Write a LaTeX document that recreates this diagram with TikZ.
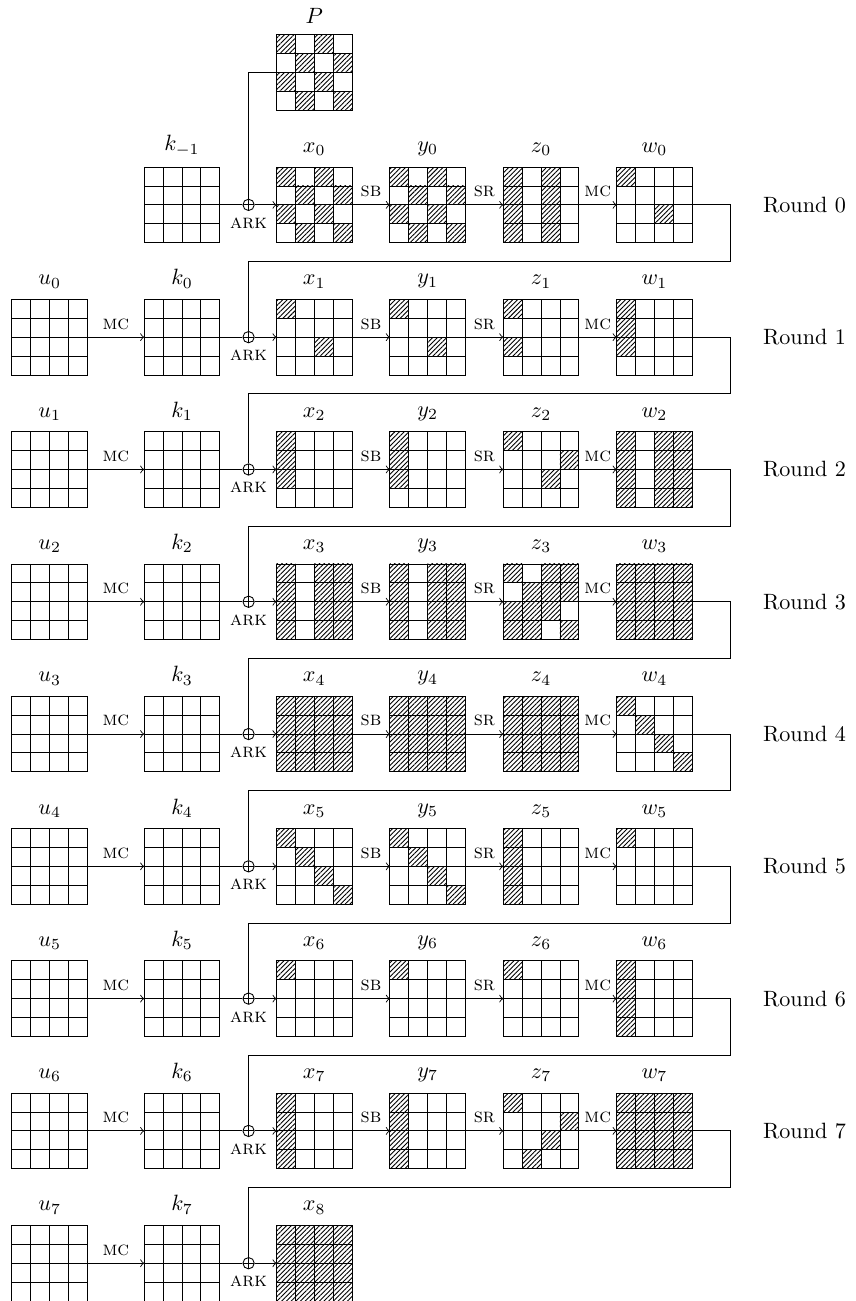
\documentclass[tikz,border=0pt]{standalone}
\usetikzlibrary{positioning,patterns.meta}

\begin{document}
\begin{tikzpicture}[
x=3mm,y=3mm,
label distance=1.5pt,
box/.style={draw,minimum size=12mm,inner sep=0pt,outer sep=0pt,
path picture={\foreach \t in {1,2,3} {
\draw ([xshift=\t*3mm]path picture bounding box.north west) -- ([xshift=\t*3mm]path picture bounding box.south west);
\draw ([yshift=-\t*3mm]path picture bounding box.north west) -- ([yshift=-\t*3mm]path picture bounding box.north east);}}},
xor/.style={draw,circle,inner sep=0pt,minimum size=1.8mm,
path picture={\draw (path picture bounding box.north) -- (path picture bounding box.south)
(path picture bounding box.west) -- (path picture bounding box.east);}},
hatch/.style={pattern={Lines[angle=45,distance=1.5pt,line width=0.4pt]}},
op/.style={font=\small},
arrow/.style={->}
]
\useasboundingbox (-0.63,8.84) rectangle (44.66,-60);

% states, one row per round
\foreach \r [evaluate=\r as \p using int(\r-1)] in {0,...,8} {
  \node[box,label=above:$k_{\p}$] (k\r) at (9,-7*\r-2) {};
  \node[xor,right=3.6mm of k\r,label={[op,yshift=2pt]below:\textsc{ark}}] (a\r) {};
  \node[box,right=9mm of k\r,label=above:$x_{\r}$] (x\r) {};
  \draw (k\r) -- (a\r);
  \draw[arrow] (a\r) -- (x\r);
  \ifnum\r>0
    \node[box,left=9mm of k\r,label=above:$u_{\p}$] (u\r) {};
    \draw[arrow] (u\r) -- node[op,above]{\textsc{mc}} (k\r);
  \fi
  \ifnum\r<8
    \node[box,right=6mm of x\r,label=above:$y_{\r}$] (y\r) {};
    \node[box,right=6mm of y\r,label=above:$z_{\r}$] (z\r) {};
    \node[box,right=6mm of z\r,label=above:$w_{\r}$] (w\r) {};
    \node[right=10mm of w\r,anchor=west] (round\r) {Round \r};
    \draw[arrow] (x\r) -- node[op,above]{\textsc{sb}} (y\r);
    \draw[arrow] (y\r) -- node[op,above]{\textsc{sr}} (z\r);
    \draw[arrow] (z\r) -- node[op,above]{\textsc{mc}} (w\r);
  \fi
}
\node[box,above=9mm of x0,label=above:$P$] (P) {};

% feed back into the next key addition
\draw (P.west) -| (a0.north);
\foreach \r [evaluate=\r as \n using int(\r+1)] in {0,...,7}
  \draw (w\r.east) -- ++(2,0) -- ++(0,-3) -| (a\n.north);

% active bytes
\foreach \g in {w3,x4,y4,z4,w7,x8}
  \fill[hatch] (\g.north west) rectangle (\g.south east);
\foreach \g/\c in {z0/0,z0/2,w2/0,w2/2,w2/3,x3/0,x3/2,x3/3,y3/0,y3/2,y3/3,z5/0,w6/0,x7/0,y7/0}
  \fill[hatch] ([shift={(\c,0)}]\g.north west) rectangle ++(1,-4);
\foreach \g/\cells in {P/{0/0,2/0,1/1,3/1,0/2,2/2,1/3,3/3},x0/{0/0,2/0,1/1,3/1,0/2,2/2,1/3,3/3},
  y0/{0/0,2/0,1/1,3/1,0/2,2/2,1/3,3/3},w0/{0/0,2/2},x1/{0/0,2/2},y1/{0/0,2/2},z1/{0/0,0/2},
  w1/{0/0,0/1,0/2},x2/{0/0,0/1,0/2},y2/{0/0,0/1,0/2},z2/{0/0,3/1,2/2},
  z3/{0/0,2/0,3/0,1/1,2/1,3/1,0/2,1/2,2/2,0/3,1/3,3/3},
  w4/{0/0,1/1,2/2,3/3},x5/{0/0,1/1,2/2,3/3},y5/{0/0,1/1,2/2,3/3},
  w5/{0/0},x6/{0/0},y6/{0/0},z6/{0/0},z7/{0/0,3/1,2/2,1/3}}
  \foreach \i/\j in \cells
    \fill[hatch] ([shift={(\i,-\j)}]\g.north west) rectangle ++(1,-1);
\end{tikzpicture}
\end{document}
